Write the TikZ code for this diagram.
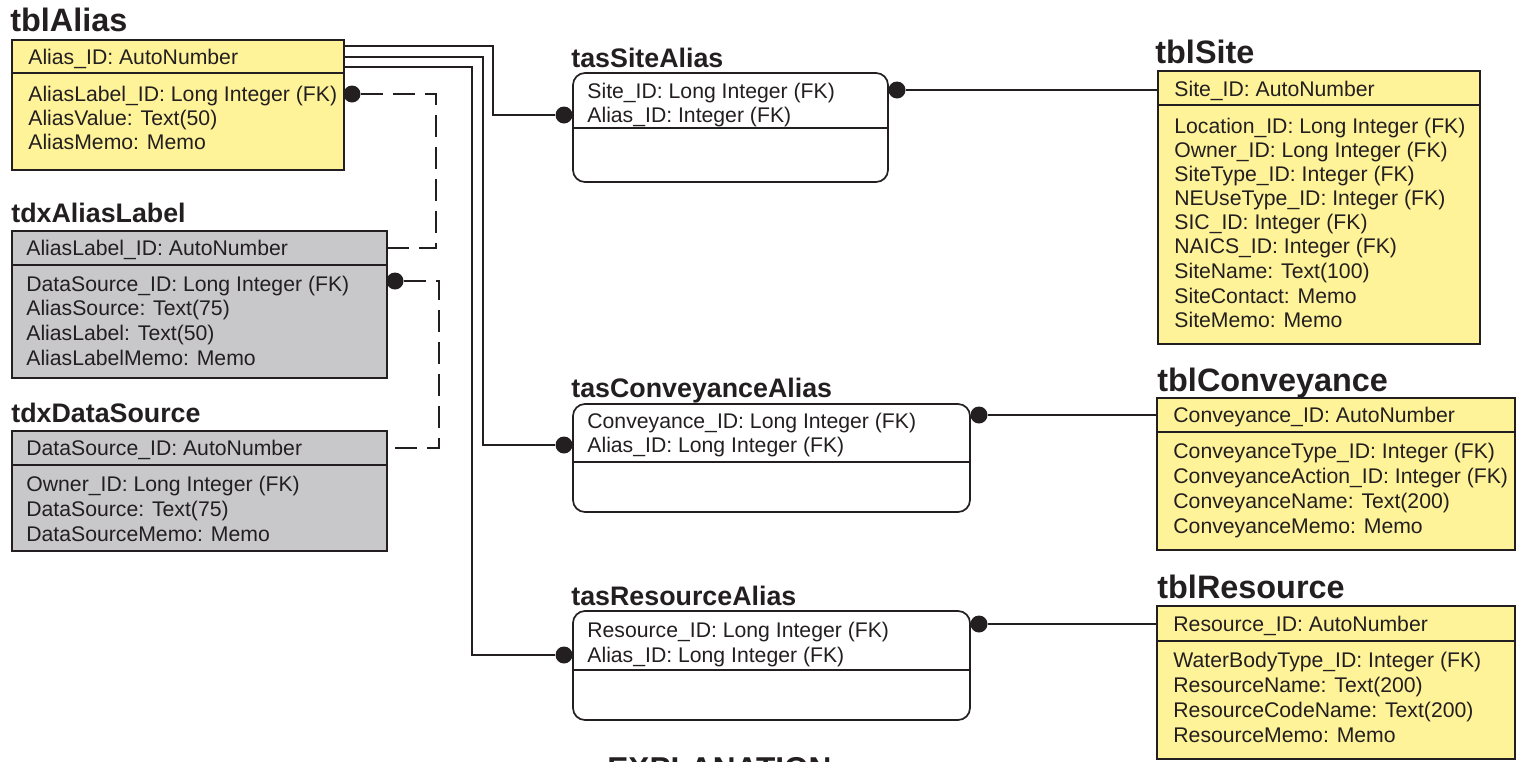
\documentclass[tikz,border=0pt]{standalone}
\usepackage{fontspec}
\setmainfont{Liberation Sans}
\usetikzlibrary{calc}
\definecolor{tblyellow}{RGB}{255,243,153}
\definecolor{tdxgray}{RGB}{200,200,202}
\definecolor{ink}{RGB}{35,31,32}

\begin{document}
\begin{tikzpicture}[x=0.5pt,y=-0.5pt,
  every node/.style={text=ink},
  title/.style={font=\fontsize{16.2}{18}\selectfont\bfseries, inner sep=0pt, text height=11.6pt, text depth=0pt, anchor=west},
  subtitle/.style={font=\fontsize{13.4}{15}\selectfont\bfseries, inner sep=0pt, text height=9.6pt, text depth=0pt, anchor=west},
  field/.style={font=\fontsize{10.6}{12}\selectfont, inner sep=0pt, text height=7.6pt, text depth=0pt, anchor=west},
  box/.style={draw=ink, line width=0.85pt, rectangle, inner sep=0pt, outer sep=0pt, anchor=north west},
  tbl/.style={box, fill=tblyellow},
  tdx/.style={box, fill=tdxgray},
  tas/.style={box, fill=white, rounded corners=6pt},
  dot/.style={circle, fill=ink, inner sep=0pt, minimum size=8.5pt},
  link/.style={draw=ink, line width=0.75pt},
  fk/.style={link, dash pattern=on 11pt off 5pt}]
  \useasboundingbox (0,0) rectangle (1516,761);

  % tblAlias
  \node[title] (aliasT) at (10,20) {tblAlias};
  \node[tbl, minimum width=166pt, minimum height=16.5pt] (aliasH) at (12,40) {};
  \node[tbl, minimum width=166pt, minimum height=48.5pt] (aliasB) at (aliasH.south west) {};
  \node[field] (aliasF0) at (28,57) {Alias\_ID: AutoNumber};
  \node[field] (aliasF1) at (28,94) {AliasLabel\_ID: Long Integer (FK)};
  \node[field] (aliasF2) at (28,118) {AliasValue: Text(50)};
  \node[field] (aliasF3) at (28,142) {AliasMemo: Memo};

  % tdxAliasLabel
  \node[subtitle] (labelT) at (11,213) {tdxAliasLabel};
  \node[tdx, minimum width=187.5pt, minimum height=17pt] (labelH) at (12,231) {};
  \node[tdx, minimum width=187.5pt, minimum height=56.5pt] (labelB) at (labelH.south west) {};
  \node[field] (labelF0) at (26,248) {AliasLabel\_ID: AutoNumber};
  \node[field] (labelF1) at (26,284) {DataSource\_ID: Long Integer (FK)};
  \node[field] (labelF2) at (26,308) {AliasSource: Text(75)};
  \node[field] (labelF3) at (26,333) {AliasLabel: Text(50)};
  \node[field] (labelF4) at (26,358) {AliasLabelMemo: Memo};

  % tdxDataSource
  \node[subtitle] (sourceT) at (11,413) {tdxDataSource};
  \node[tdx, minimum width=187.5pt, minimum height=17pt] (sourceH) at (12,431) {};
  \node[tdx, minimum width=187.5pt, minimum height=43pt] (sourceB) at (sourceH.south west) {};
  \node[field] (sourceF0) at (26,448) {DataSource\_ID: AutoNumber};
  \node[field] (sourceF1) at (26,484) {Owner\_ID: Long Integer (FK)};
  \node[field] (sourceF2) at (26,509) {DataSource: Text(75)};
  \node[field] (sourceF3) at (26,534) {DataSourceMemo: Memo};

  % tasSiteAlias
  \node[subtitle] (siteAT) at (571,58) {tasSiteAlias};
  \node[tas, minimum width=157.5pt, minimum height=54.5pt] (siteA) at (573,73) {};
  \draw[link, line width=0.85pt] ($(siteA.north west)+(0,55)$) -- ($(siteA.north east)+(0,55)$);
  \node[field] (siteAF1) at (587,91) {Site\_ID: Long Integer (FK)};
  \node[field] (siteAF2) at (587,115) {Alias\_ID: Integer (FK)};

  % tasConveyanceAlias
  \node[subtitle] (convAT) at (571,388) {tasConveyanceAlias};
  \node[tas, minimum width=198.5pt, minimum height=54pt] (convA) at (573,404) {};
  \draw[link, line width=0.85pt] ($(convA.north west)+(0,58)$) -- ($(convA.north east)+(0,58)$);
  \node[field] (convAF1) at (587,421) {Conveyance\_ID: Long Integer (FK)};
  \node[field] (convAF2) at (587,445) {Alias\_ID: Long Integer (FK)};

  % tasResourceAlias
  \node[subtitle] (resAT) at (571,596) {tasResourceAlias};
  \node[tas, minimum width=198.5pt, minimum height=54.5pt] (resA) at (573,611) {};
  \draw[link, line width=0.85pt] ($(resA.north west)+(0,59)$) -- ($(resA.north east)+(0,59)$);
  \node[field] (resAF1) at (587,630) {Resource\_ID: Long Integer (FK)};
  \node[field] (resAF2) at (587,655) {Alias\_ID: Long Integer (FK)};

  % tblSite
  \node[title] (siteT) at (1155,52) {tblSite};
  \node[tbl, minimum width=161pt, minimum height=17pt] (siteH) at (1158,71) {};
  \node[tbl, minimum width=161pt, minimum height=119.5pt] (siteB) at (siteH.south west) {};
  \node[field] (siteF0) at (1174,89) {Site\_ID: AutoNumber};
  \node[field] (siteF1) at (1174,126) {Location\_ID: Long Integer (FK)};
  \node[field] (siteF2) at (1174,150) {Owner\_ID: Long Integer (FK)};
  \node[field] (siteF3) at (1174,174) {SiteType\_ID: Integer (FK)};
  \node[field] (siteF4) at (1174,198) {NEUseType\_ID: Integer (FK)};
  \node[field] (siteF5) at (1174,222) {SIC\_ID: Integer (FK)};
  \node[field] (siteF6) at (1174,246) {NAICS\_ID: Integer (FK)};
  \node[field] (siteF7) at (1174,271) {SiteName: Text(100)};
  \node[field] (siteF8) at (1174,296) {SiteContact: Memo};
  \node[field] (siteF9) at (1174,320) {SiteMemo: Memo};

  % tblConveyance
  \node[title] (convT) at (1157,380) {tblConveyance};
  \node[tbl, minimum width=179pt, minimum height=17pt] (convH) at (1157,398) {};
  \node[tbl, minimum width=179pt, minimum height=59pt] (convB) at (convH.south west) {};
  \node[field] (convF0) at (1173,415) {Conveyance\_ID: AutoNumber};
  \node[field] (convF1) at (1173,451) {ConveyanceType\_ID: Integer (FK)};
  \node[field] (convF2) at (1173,476) {ConveyanceAction\_ID: Integer (FK)};
  \node[field] (convF3) at (1173,501) {ConveyanceName: Text(200)};
  \node[field] (convF4) at (1173,526) {ConveyanceMemo: Memo};

  % tblResource
  \node[title] (resT) at (1157,587) {tblResource};
  \node[tbl, minimum width=179pt, minimum height=17.5pt] (resH) at (1157,606) {};
  \node[tbl, minimum width=179pt, minimum height=59pt] (resB) at (resH.south west) {};
  \node[field] (resF0) at (1173,624) {Resource\_ID: AutoNumber};
  \node[field] (resF1) at (1173,660) {WaterBodyType\_ID: Integer (FK)};
  \node[field] (resF2) at (1173,685) {ResourceName: Text(200)};
  \node[field] (resF3) at (1173,710) {ResourceCodeName: Text(200)};
  \node[field] (resF4) at (1173,735) {ResourceMemo: Memo};

  % dots
  \node[dot] (dotAL) at (352,94) {};
  \node[dot] (dotDS) at (395,281) {};
  \node[dot] (dotSA) at (564,115) {};
  \node[dot] (dotCA) at (564,445) {};
  \node[dot] (dotRA) at (564,655) {};
  \node[dot] (dotSS) at (897,90) {};
  \node[dot] (dotCS) at (979,415) {};
  \node[dot] (dotRS) at (979,624) {};

  % relationships
  \draw[link] ($(aliasH.north east)+(0,6)$) -- ++(149,0) |- (dotSA);
  \draw[link] ($(aliasH.north east)+(0,17)$) -- ++(139,0) |- (dotCA);
  \draw[link] ($(aliasH.north east)+(0,27)$) -- ++(128,0) |- (dotRA);
  \draw[link] (dotSS) -- (siteH.west |- dotSS);
  \draw[link] (dotCS) -- (convH.west |- dotCS);
  \draw[link] (dotRS) -- (resH.west |- dotRS);
  \draw[fk] (dotAL) -| ($(labelH.east)+(49,0)$) -- (labelH.east);
  \draw[fk] (dotDS) -| ($(sourceH.east)+(52,0)$) -- (sourceH.east);

  \node[font=\fontsize{15.8}{18}\selectfont\bfseries, inner sep=0pt, anchor=base west] (expl) at (607,779) {EXPLANATION};
\end{tikzpicture}
\end{document}
